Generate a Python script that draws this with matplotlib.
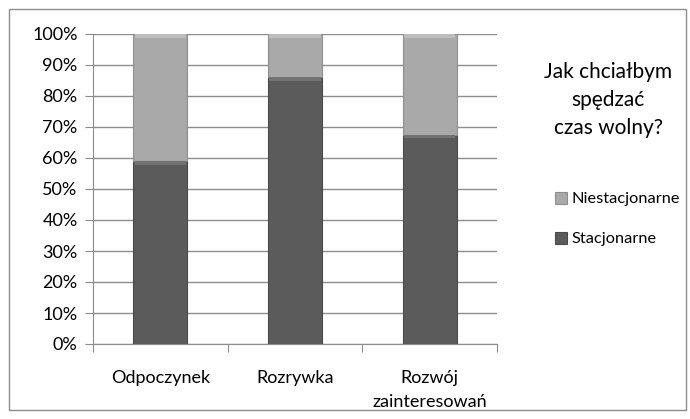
import matplotlib.pyplot as plt
from matplotlib.patches import Rectangle

categories = ["Odpoczynek", "Rozrywka", "Rozwój\nzainteresowań"]
stacjonarne = [59, 86, 67.5]
niestacjonarne = [41, 14, 32.5]

dark = "#5b5b5b"
light = "#a9a9a9"
grid = "#8c8c8c"

plt.rcParams['font.family'] = ['Lato', 'DejaVu Sans']

fig = plt.figure(figsize=(6.9, 4.19), dpi=100)
ax = fig.add_axes([93 / 690, 1 - 344 / 419, 404 / 690, 310 / 419])

x = range(len(categories))
ax.bar(x, stacjonarne, width=0.4, color=dark, edgecolor="#4a4a4a", linewidth=0.8,
       label="Stacjonarne", zorder=3)
ax.bar(x, niestacjonarne, width=0.4, bottom=stacjonarne, color=light,
       edgecolor="#8f8f8f", linewidth=0.8, label="Niestacjonarne", zorder=3)

# bevel highlight at top of each segment
tops_dark = [s - 1.2 for s in stacjonarne]
tops_light = [s + n - 1.2 for s, n in zip(stacjonarne, niestacjonarne)]
ax.bar(x, 1.2, width=0.38, bottom=tops_dark, color="#737373", linewidth=0, zorder=4)
ax.bar(x, 1.2, width=0.38, bottom=tops_light, color="#bdbdbd", linewidth=0, zorder=4)

ax.set_xlim(-0.5, 2.5)
ax.set_ylim(0, 100)
ax.set_yticks(range(0, 101, 10))
ax.set_yticklabels([f"{v}%" for v in range(0, 101, 10)], fontsize=13)
ax.set_xticks([-0.5, 0.5, 1.5, 2.5])
ax.set_xticklabels([])
ax.set_xticks(list(x), minor=True)
ax.set_xticklabels(categories, minor=True, fontsize=13, linespacing=1.55)
ax.tick_params(axis="x", which="minor", length=0, pad=19)
ax.tick_params(axis="x", which="major", length=6, color=grid)
ax.tick_params(axis="y", length=6, color=grid, pad=5)
ax.yaxis.grid(True, color=grid, linewidth=1, zorder=0)
for s in ["top", "right"]:
    ax.spines[s].set_visible(False)
ax.spines["left"].set_color(grid)
ax.spines["bottom"].set_color(grid)

# title on the right
fig.text(608 / 690, 1 - 100 / 419, "Jak chciałbym\nspędzać\nczas wolny?",
         ha="center", va="center", fontsize=15, linespacing=1.5)

handles, labels = ax.get_legend_handles_labels()
fig.legend(handles[::-1], labels[::-1], loc="center left",
           bbox_to_anchor=(555 / 690, 1 - 219 / 419), frameon=False,
           fontsize=11.8, handlelength=0.75, handleheight=0.75, handletextpad=0.25,
           labelspacing=1.55, borderaxespad=0, borderpad=0)

fig.patches.append(Rectangle((9 / 690, 9 / 419), 677 / 690, 401 / 419,
                             transform=fig.transFigure, fill=False,
                             edgecolor="#8c8c8c", linewidth=1))

fig.savefig("out.png", dpi=100)
